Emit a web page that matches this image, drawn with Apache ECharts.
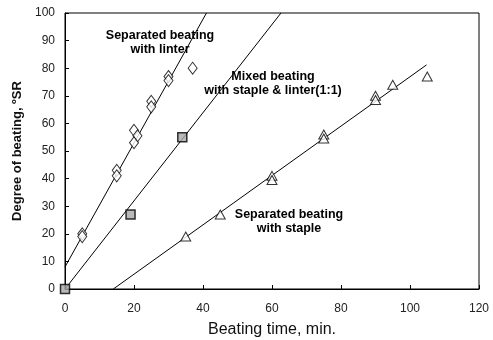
<!DOCTYPE html>
<html><head><meta charset="utf-8">
<script src="https://cdn.jsdelivr.net/npm/echarts@6/dist/echarts.min.js"></script>
<style>html,body{margin:0;padding:0;background:#fff}#c{width:493px;height:340px}</style>
</head><body><div id="c"></div>
<script>
// Data
const linterPts = [[5,20],[5,19],[15,43],[15,41],[20,57.5],[21,55.5],[20,53],[25,68],[25,66],[30,77],[30,75.5],[37,80]];
const mixedPts = [[0,0],[19,27],[34,55]];
const staplePts = [[35,19],[45,27],[60,41],[60,39.5],[75,56],[75,54.5],[90,70],[90,68.5],[95,74],[105,77]];
const linterFit = [[0,8],[41,100]];
const mixedFit = [[0,0],[62.6,100]];
const stapleFit = [[14,0],[104.8,81.2]];
const xTicks = [0,20,40,60,80,100,120];
const yTicks = [0,10,20,30,40,50,60,70,80,90,100];
const xName = 'Beating time, min.';
const yName = 'Degree of beating, ºSR';
const labels = [
  {text:'Separated beating\nwith linter', x:160, y:29},
  {text:'Mixed beating\nwith staple & linter(1:1)', x:273, y:70},
  {text:'Separated beating\nwith staple', x:289, y:208}
];

const chart = echarts.init(document.getElementById('c'), null, {renderer:'canvas'});
const lineStyle = {color:'#000', width:1};
const fitSeries = d => ({type:'line', data:d, symbol:'none', lineStyle:lineStyle, silent:true, z:1, animation:false});
chart.setOption({
  animation:false,
  grid:{left:65, right:14, top:13, bottom:51, show:true, borderColor:'#000', borderWidth:1,
    backgroundColor:'transparent', containLabel:false, outerBoundsMode:'none'},
  xAxis:{type:'value', min:xTicks[0], max:xTicks[xTicks.length-1], interval:xTicks[1]-xTicks[0],
    axisLine:{show:true, lineStyle:{color:'#000', width:1}},
    axisTick:{show:true, inside:true, length:4, lineStyle:{color:'#000'}},
    splitLine:{show:false},
    axisLabel:{color:'#222', fontSize:12, fontFamily:'Liberation Sans, Arial', margin:14},
    name:xName, nameLocation:'middle', nameGap:33,
    nameTextStyle:{color:'#111', fontSize:16, fontFamily:'Liberation Sans, Arial'}},
  yAxis:{type:'value', min:yTicks[0], max:yTicks[yTicks.length-1], interval:yTicks[1]-yTicks[0],
    axisLine:{show:true, lineStyle:{color:'#000', width:1}},
    axisTick:{show:true, inside:true, length:4, lineStyle:{color:'#000'}},
    splitLine:{show:false},
    axisLabel:{color:'#222', fontSize:12, fontFamily:'Liberation Sans, Arial', margin:10},
    name:yName, nameLocation:'middle', nameGap:34,
    nameTextStyle:{color:'#111', fontSize:13, fontWeight:'bold', fontFamily:'Liberation Sans, Arial'}},
  series:[
    fitSeries(linterFit), fitSeries(mixedFit), fitSeries(stapleFit),
    {type:'scatter', data:linterPts, symbol:'diamond', symbolSize:[9,12],
      itemStyle:{color:'#fff', borderColor:'#000', borderWidth:1}, z:3},
    {type:'scatter', data:mixedPts, symbol:'rect', symbolSize:9,
      itemStyle:{color:'#a8a8a8', borderColor:'#000', borderWidth:1.5}, z:3},
    {type:'scatter', data:staplePts, symbol:'triangle', symbolSize:[10,9],
      itemStyle:{color:'#fff', borderColor:'#000', borderWidth:1}, z:3}
  ],
  graphic: labels.map(l => ({type:'text', x:l.x, y:l.y, z:10,
    style:{text:l.text, fill:'#000', font:'bold 12.5px "Liberation Sans", Arial', textAlign:'center', lineHeight:14}}))
});
</script></body></html>
